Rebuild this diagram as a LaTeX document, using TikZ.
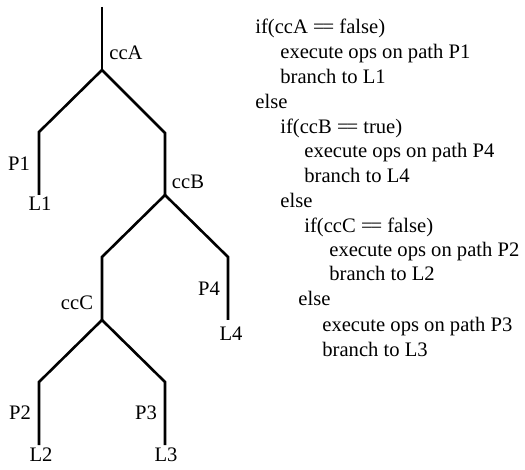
\documentclass[tikz,border=0pt]{standalone}
\usepackage{fontspec}
\setmainfont{Liberation Serif}
\usepackage{tikz}
\usetikzlibrary{calc,positioning}
\newcommand{\eqeq}{=\kern-0.1em=}

\begin{document}
\begin{tikzpicture}[x=0.5pt,y=-0.5pt,
  font=\fontsize{10.3}{12}\selectfont,
  branch/.style={line width=1.3pt},
  lbl/.style={inner sep=0pt},
  code/.style={anchor=base west,inner sep=0pt}]
\useasboundingbox (0,0) rectangle (525,470);
% the tree
\coordinate (top) at (102,7);
\coordinate (A) at (102,70);
\coordinate (A1) at (39,132);
\coordinate (endL1) at (39,195);
\coordinate (A2) at (165,133);
\coordinate (B) at (165,195);
\coordinate (B1) at (102,257);
\coordinate (C) at (102,320);
\coordinate (B2) at (228,257);
\coordinate (endL4) at (228,320);
\coordinate (C1) at (39,382);
\coordinate (endL2) at (39,445);
\coordinate (C2) at (165,382);
\coordinate (endL3) at (165,445);
\draw[branch] (top) -- (A);
\draw[branch] (endL1) -- (A1) -- (A) -- (A2) -- (B);
\draw[branch] (C) -- (B1) -- (B) -- (B2) -- (endL4);
\draw[branch] (endL2) -- (C1) -- (C) -- (C2) -- (endL3);
\node[lbl] (ccA) at (126,53) {ccA};
\node[lbl] (ccB) at (188,182) {ccB};
\node[lbl] (ccC) at (77,303) {ccC};
\node[lbl] (P1) at (19,164) {P1};
\node[lbl] (P4) at (209,289) {P4};
\node[lbl] (P2) at (20,413) {P2};
\node[lbl] (P3) at (146,413) {P3};
\node[lbl] (L1) at (40,204) {L1};
\node[lbl] (L4) at (231,334) {L4};
\node[lbl] (L2) at (41,455) {L2};
\node[lbl] (L3) at (166,455) {L3};
% the code
\node[code] (l1) at (255,34) {if(ccA \eqeq{} false)};
\node[code] (l2) at (280,58.8) {execute ops on path P1};
\node[code] (l3) at (280,83.6) {branch to L1};
\node[code] (l4) at (255,108.4) {else};
\node[code] (l5) at (280,133.2) {if(ccB \eqeq{} true)};
\node[code] (l6) at (304,158) {execute ops on path P4};
\node[code] (l7) at (304,182.8) {branch to L4};
\node[code] (l8) at (280,207.6) {else};
\node[code] (l9) at (304,232.4) {if(ccC \eqeq{} false)};
\node[code] (l10) at (329,256.5) {execute ops on path P2};
\node[code] (l11) at (329,281) {branch to L2};
\node[code] (l12) at (298,306) {else};
\node[code] (l13) at (322,332) {execute ops on path P3};
\node[code] (l14) at (322,356.4) {branch to L3};
\end{tikzpicture}
\end{document}
